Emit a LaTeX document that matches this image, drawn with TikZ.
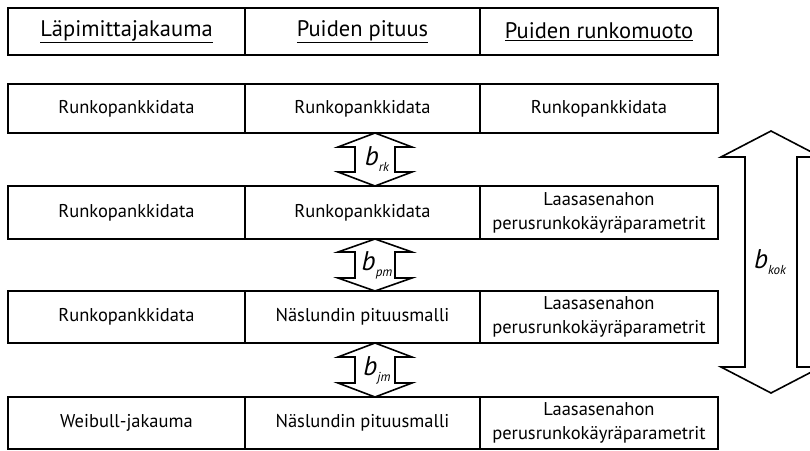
\documentclass[tikz,border=0pt]{standalone}
\usepackage{fontspec}
\setmainfont{PT Sans}
\tikzset{
  cell/.style={draw, line width=1.6pt, inner sep=0pt, align=center,
    font=\fontsize{18.5}{24}\selectfont},
  headcell/.style={cell, line width=2pt, font=\fontsize{22.5}{24}\selectfont},
  arrowshape/.style={draw, line width=1.6pt, line join=miter, fill=white},
  blabel/.style={inner sep=0pt, font=\fontsize{27}{27}\selectfont\itshape}
}
\newcommand\sub[1]{\raisebox{-6pt}{\fontsize{13}{13}\selectfont\itshape #1}}
% double arrow: x, ytop, ybot, head half width, shaft half width, head length
\newcommand\dblarr[6]{%
  \draw[arrowshape] (#1,#2) -- ++(#4,#6) -- (#1+#5,#2+#6) -- (#1+#5,#3-#6)
    -- (#1+#4,#3-#6) -- (#1,#3) -- (#1-#4,#3-#6) -- (#1-#5,#3-#6)
    -- (#1-#5,#2+#6) -- (#1-#4,#2+#6) -- cycle;}
\begin{document}
\begin{tikzpicture}[x=1pt,y=-1pt]
\clip (0,0) rectangle (810,450);
\fill[white] (0,0) rectangle (810,450);
% header
\node[headcell, minimum width=237pt, minimum height=47pt] (h1) at (126.5,31.5) {\underline{Läpimittajakauma}};
\node[headcell, minimum width=235pt, minimum height=47pt] (h2) at (362.5,31.5) {\underline{Puiden pituus}};
\node[headcell, minimum width=238pt, minimum height=47pt] (h3) at (599,31.5) {\underline{Puiden runkomuoto}};
% row 1
\node[cell, minimum width=237pt, minimum height=49pt] (r1c1) at (126.5,108.5) {Runkopankkidata};
\node[cell, minimum width=235pt, minimum height=49pt] (r1c2) at (362.5,108.5) {Runkopankkidata};
\node[cell, minimum width=238pt, minimum height=49pt] (r1c3) at (599,108.5) {Runkopankkidata};
% row 2
\node[cell, minimum width=237pt, minimum height=53pt] (r2c1) at (126.5,212.5) {Runkopankkidata};
\node[cell, minimum width=235pt, minimum height=53pt] (r2c2) at (362.5,212.5) {Runkopankkidata};
\node[cell, minimum width=238pt, minimum height=53pt] (r2c3) at (599,212.5) {Laasasenahon\\perusrunkokäyräparametrit};
% row 3
\node[cell, minimum width=237pt, minimum height=52pt] (r3c1) at (126.5,317) {Runkopankkidata};
\node[cell, minimum width=235pt, minimum height=52pt] (r3c2) at (362.5,317) {Näslundin pituusmalli};
\node[cell, minimum width=238pt, minimum height=52pt] (r3c3) at (599,317) {Laasasenahon\\perusrunkokäyräparametrit};
% row 4
\node[cell, minimum width=237pt, minimum height=52pt] (r4c1) at (126.5,423) {Weibull-jakauma};
\node[cell, minimum width=235pt, minimum height=52pt] (r4c2) at (362.5,423) {Näslundin pituusmalli};
\node[cell, minimum width=238pt, minimum height=52pt] (r4c3) at (599,423) {Laasasenahon\\perusrunkokäyräparametrit};
% small double arrows
\dblarr{375}{133}{186}{37}{20}{14}
\node[blabel] (brk) at (377,159) {b\sub{rk}};
\dblarr{375}{239}{291}{37}{20}{13}
\node[blabel] (bpm) at (377,265) {b\sub{pm}};
\dblarr{375}{343}{397}{37}{20}{14}
\node[blabel] (bjm) at (377,370) {b\sub{jm}};
% big double arrow
\dblarr{771}{131}{393}{50}{26}{26}
\node[blabel] (bkok) at (770,262) {b\sub{kok}};
\end{tikzpicture}
\end{document}
